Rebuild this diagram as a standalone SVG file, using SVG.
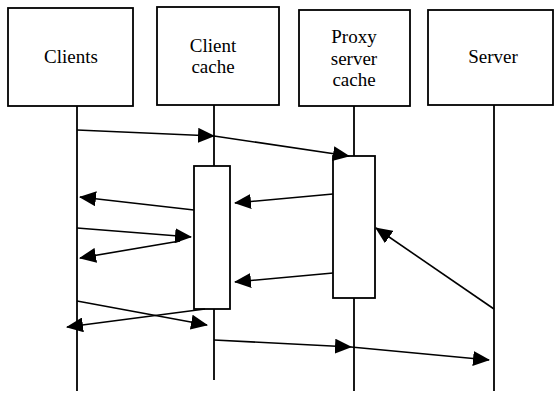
<svg xmlns="http://www.w3.org/2000/svg" width="556" height="395" viewBox="0 0 556 395">
<style>
.box{fill:#fff;stroke:#000;stroke-width:1.8}
.life{stroke:#000;stroke-width:1.8;fill:none}
.msg{stroke:#000;stroke-width:1.6;fill:none;marker-end:url(#ah)}
.t{font-family:'Liberation Serif','DejaVu Serif',serif;font-size:19px;fill:#000;text-anchor:middle}
</style>
<defs>
<marker id="ah" markerUnits="userSpaceOnUse" markerWidth="17" markerHeight="15" refX="16" refY="7.5" orient="auto">
<path d="M0,0 L17,7.5 L0,15 z" fill="#000"/>
</marker>
</defs>
<rect width="556" height="395" fill="#fff"/>
<g id="lifelines">
<line class="life" x1="77" y1="106" x2="77" y2="391"/>
<line class="life" x1="214" y1="105" x2="214" y2="166"/>
<line class="life" x1="214" y1="309" x2="214" y2="380"/>
<line class="life" x1="354" y1="106" x2="354" y2="156"/>
<line class="life" x1="354" y1="298" x2="354" y2="391"/>
<line class="life" x1="494" y1="105" x2="494" y2="391"/>
</g>
<g id="clients"><rect class="box" x="8" y="8" width="125" height="98"/><text class="t" font-family="Liberation Serif, serif" x="71" y="63">Clients</text></g>
<g id="client-cache"><rect class="box" x="157" y="7" width="122" height="98"/><text class="t" x="213" y="52">Client</text><text class="t" x="213" y="73">cache</text></g>
<g id="proxy"><rect class="box" x="299" y="10" width="111" height="96"/><text class="t" x="354" y="43">Proxy</text><text class="t" x="354" y="65">server</text><text class="t" x="354" y="86">cache</text></g>
<g id="server"><rect class="box" x="428" y="10" width="125" height="95"/><text class="t" x="493" y="63">Server</text></g>
<g id="client-cache-activation"><rect class="box" x="194" y="166" width="36" height="143"/></g>
<g id="proxy-activation"><rect class="box" x="333" y="156" width="42" height="142"/></g>
<g id="connectors">
<line class="msg" x1="77" y1="130" x2="214" y2="136"/>
<line class="msg" x1="214" y1="136" x2="349" y2="156"/>
<line class="msg" x1="194" y1="210" x2="80" y2="197"/>
<line class="msg" x1="333" y1="194" x2="235" y2="203"/>
<line class="msg" x1="77" y1="228" x2="191" y2="237"/>
<line class="msg" x1="180" y1="241" x2="80" y2="258"/>
<line class="msg" x1="333" y1="273" x2="235" y2="282"/>
<line class="msg" x1="77" y1="301" x2="207" y2="325"/>
<line class="msg" x1="205" y1="309" x2="67" y2="327"/>
<line class="msg" x1="494" y1="309" x2="376" y2="228"/>
<line class="msg" x1="214" y1="340" x2="351" y2="347"/>
<line class="msg" x1="351" y1="347" x2="489" y2="360"/>
</g>
</svg>
